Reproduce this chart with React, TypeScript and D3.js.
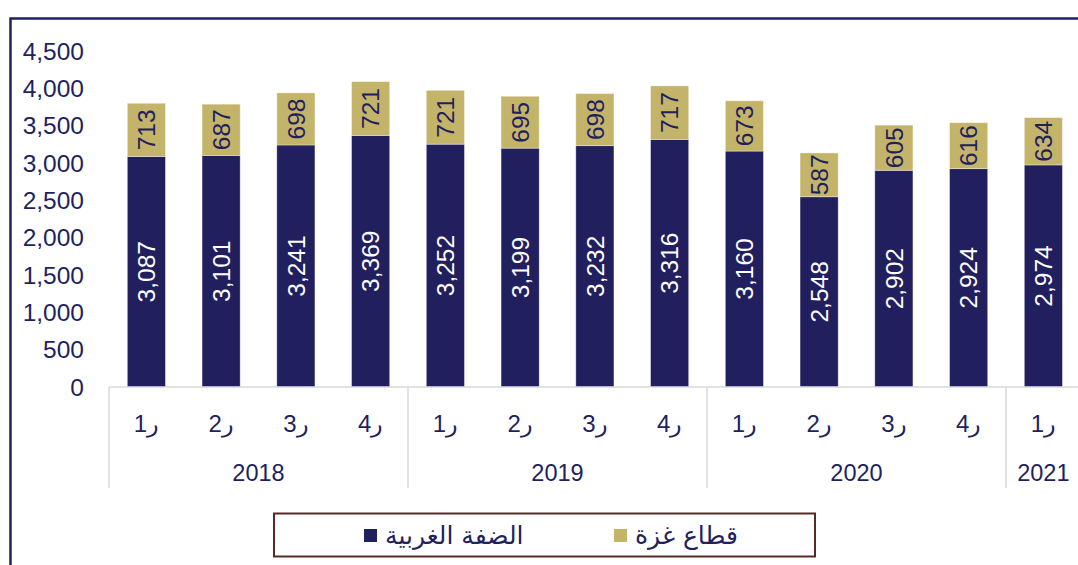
import { useEffect, useRef } from 'react';
import * as d3 from 'd3';

const quarters = ['ر1', 'ر2', 'ر3', 'ر4', 'ر1', 'ر2', 'ر3', 'ر4', 'ر1', 'ر2', 'ر3', 'ر4', 'ر1'];
const years = ['2018', '2018', '2018', '2018', '2019', '2019', '2019', '2019', '2020', '2020', '2020', '2020', '2021'];
const westBank = [3087, 3101, 3241, 3369, 3252, 3199, 3232, 3316, 3160, 2548, 2902, 2924, 2974];
const gaza = [713, 687, 698, 721, 721, 695, 698, 717, 673, 587, 605, 616, 634];
const yTicks = [0, 500, 1000, 1500, 2000, 2500, 3000, 3500, 4000, 4500];

const NAVY = '#221f5f';
const GOLD = '#c4b46a';
const FONT = '"Liberation Sans", Arial, sans-serif';

export default function App() {
  const svgRef = useRef<SVGSVGElement>(null);

  useEffect(() => {
    if (!svgRef.current) return;
    const svg = d3.select(svgRef.current);
    svg.selectAll('*').remove();

    const width = 1078;
    const height = 565;
    svg.attr('width', width).attr('height', height);

    // outer frame (right/bottom edges fall outside the picture)
    svg.append('rect')
      .attr('x', 10.5).attr('y', 18.5)
      .attr('width', 1100).attr('height', 600)
      .attr('fill', 'none').attr('stroke', NAVY).attr('stroke-width', 2.5);

    const idx = d3.range(westBank.length).map(String);
    const x = d3.scaleBand<string>()
      .domain(idx)
      .range([109, 109 + 13 * 74.75])
      .paddingInner(0.49)
      .paddingOuter(0.245);

    const y = d3.scaleLinear().domain([0, 4500]).range([387, 51]);

    // y tick labels
    svg.append('g').selectAll('text')
      .data(yTicks)
      .join('text')
      .attr('x', 84)
      .attr('y', d => y(d))
      .attr('dy', '0.36em')
      .attr('text-anchor', 'end')
      .attr('font-family', FONT)
      .attr('font-size', 24.5)
      .attr('fill', NAVY)
      .text(d => d3.format(',')(d));

    const stack = d3.stack<number>()
      .keys(['wb', 'gz'])
      .value((i, key) => (key === 'wb' ? westBank[i] : gaza[i]));
    const series = stack(d3.range(westBank.length));
    const colors = [NAVY, GOLD];
    const labelColors = ['#ffffff', NAVY];

    series.forEach((s, si) => {
      const g = svg.append('g');
      g.selectAll('rect')
        .data(s)
        .join('rect')
        .attr('x', (_, i) => x(String(i))!)
        .attr('width', x.bandwidth())
        .attr('y', d => y(d[1]))
        .attr('height', d => y(d[0]) - y(d[1]))
        .attr('fill', colors[si])
        .attr('stroke', '#ffffff')
        .attr('stroke-opacity', 0.45)
        .attr('stroke-width', 0.8);

      g.selectAll('text')
        .data(s)
        .join('text')
        .attr('transform', (d, i) => {
          const cx = x(String(i))! + x.bandwidth() / 2;
          const cy = (y(d[0]) + y(d[1])) / 2;
          return `translate(${cx},${cy}) rotate(-90)`;
        })
        .attr('text-anchor', 'middle')
        .attr('dy', '0.36em')
        .attr('font-family', FONT)
        .attr('font-size', 24.5)
        .attr('fill', labelColors[si])
        .text(d => d3.format(',')(d[1] - d[0]));
    });

    // category axis
    const axis = svg.append('g');
    axis.append('line')
      .attr('x1', 109).attr('x2', width)
      .attr('y1', 387).attr('y2', 387)
      .attr('stroke', '#d9d9d9').attr('stroke-width', 1.5);

    const groups = d3.groups(idx, i => years[+i]);
    const step = x.step();
    const x0 = x.range()[0];
    const seps: number[] = [x0];
    groups.forEach(([, members]) => {
      seps.push(x0 + (+members[members.length - 1] + 1) * step);
    });
    axis.selectAll('line.sep')
      .data(seps)
      .join('line')
      .attr('class', 'sep')
      .attr('x1', d => d).attr('x2', d => d)
      .attr('y1', 387).attr('y2', 488)
      .attr('stroke', '#d9d9d9').attr('stroke-width', 1.5);

    axis.selectAll('text.q')
      .data(quarters)
      .join('text')
      .attr('class', 'q')
      .attr('x', (_, i) => x(String(i))! + x.bandwidth() / 2)
      .attr('y', 423)
      .attr('dy', '0.36em')
      .attr('text-anchor', 'middle')
      .attr('font-family', FONT)
      .attr('font-size', 24)
      .attr('fill', NAVY)
      .text(d => d);

    axis.selectAll('text.yr')
      .data(groups)
      .join('text')
      .attr('class', 'yr')
      .attr('x', ([, m]) => x0 + ((+m[0]) + (+m[m.length - 1] + 1)) / 2 * step)
      .attr('y', 473)
      .attr('dy', '0.36em')
      .attr('text-anchor', 'middle')
      .attr('font-family', FONT)
      .attr('font-size', 23.5)
      .attr('fill', NAVY)
      .text(([yr]) => yr);

    // legend
    const lg = svg.append('g');
    lg.append('rect')
      .attr('x', 274).attr('y', 513.5)
      .attr('width', 541).attr('height', 43)
      .attr('fill', '#ffffff').attr('stroke', '#5a2a22').attr('stroke-width', 2);
    const items = [
      { label: 'الضفة الغربية', color: NAVY, sx: 364 },
      { label: 'قطاع غزة', color: GOLD, sx: 614 },
    ];
    items.forEach(it => {
      lg.append('rect')
        .attr('x', it.sx).attr('y', 529)
        .attr('width', 13).attr('height', 13)
        .attr('fill', it.color);
      lg.append('text')
        .attr('x', it.sx + 21)
        .attr('y', 535)
        .attr('dy', '0.36em')
        .attr('font-family', '"DejaVu Sans", "Noto Sans", sans-serif')
        .attr('font-size', 25)
        .attr('fill', NAVY)
        .text(it.label);
    });
  }, []);

  return (
    <div style={{ position: 'absolute', left: 0, top: 0 }}>
      <svg ref={svgRef} style={{ display: 'block' }} />
    </div>
  );
}
